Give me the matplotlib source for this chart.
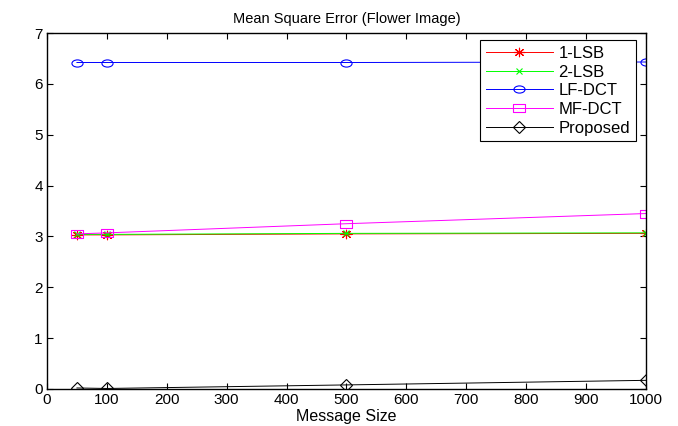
import numpy as np
import matplotlib
matplotlib.use('Agg')
from matplotlib import pyplot as plt
from matplotlib.path import Path
from matplotlib.transforms import Affine2D

plt.rcParams['font.family'] = ['Liberation Sans', 'DejaVu Sans']
plt.rcParams['font.size'] = 9

msg_size = [50, 100, 500, 1000]
lsb1 = [3.03, 3.03, 3.05, 3.06]
lsb2 = [3.04, 3.04, 3.06, 3.07]
lf_dct = [6.42, 6.42, 6.42, 6.43]
mf_dct = [3.05, 3.07, 3.25, 3.45]
proposed = [0.02, 0.01, 0.08, 0.17]

# the original picture is stretched sideways, so the markers are too
wide_circle = Path.unit_circle().transformed(Affine2D().scale(1.55, 1.0))
wide_square = Path.unit_rectangle().transformed(Affine2D().translate(-0.5, -0.5).scale(1.35, 1.0))
asterisk = Path.unit_regular_asterisk(8).transformed(Affine2D().scale(1.3, 1.0))

fig = plt.figure(figsize=(6.78, 4.26), dpi=100)
ax = fig.add_axes([0.0693, 0.0869, 0.8835, 0.8356])

ax.plot(msg_size, lsb1, color='red', marker=asterisk, ms=8, lw=0.7, mew=0.8, label='1-LSB')
ax.plot(msg_size, lsb2, color='#00ff00', marker='x', ms=4.5, lw=0.7, mew=0.8, label='2-LSB')
ax.plot(msg_size, lf_dct, color='blue', marker=wide_circle, ms=8, mfc='none', lw=0.7, mew=0.8, label='LF-DCT')
ax.plot(msg_size, mf_dct, color='magenta', marker=wide_square, ms=8.5, mfc='none', lw=0.7, mew=0.8, label='MF-DCT')
ax.plot(msg_size, proposed, color='black', marker='D', ms=6, mfc='none', lw=0.7, mew=0.8, label='Proposed')

ax.set_xlim(0, 1000)
ax.set_ylim(0, 7)
ax.set_xticks(np.arange(0, 1001, 100))
ax.set_yticks(np.arange(0, 8, 1))
ax.tick_params(direction='in', top=True, right=True, length=4, width=0.8, labelsize=11, pad=3)
for sp in ax.spines.values():
    sp.set_linewidth(1.0)
ax.set_xlabel('Message Size', fontsize=11.5, labelpad=1)
ax.set_title('Mean Square Error (Flower Image)', fontsize=10.5, pad=7)

leg = ax.legend(loc='upper right', bbox_to_anchor=(0.983, 0.98), fontsize=12,
                fancybox=False, edgecolor='black', framealpha=1,
                borderpad=0.35, labelspacing=0.22, handlelength=4.0, handletextpad=0.35,
                borderaxespad=0)
leg.get_frame().set_linewidth(0.8)

fig.savefig('out.png', dpi=100)
